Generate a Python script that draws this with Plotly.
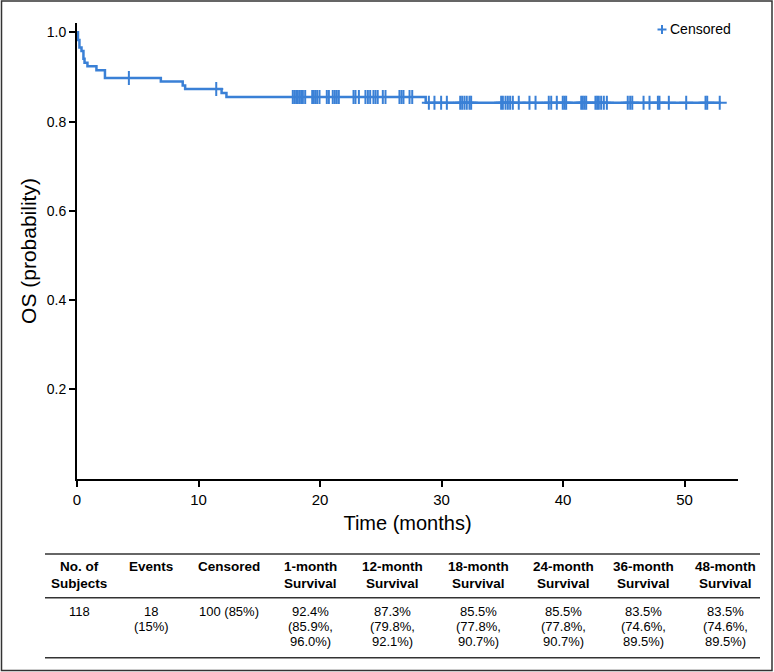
import bisect
import plotly.graph_objs as go

# Kaplan-Meier step curve (months, survival probability)
step_times = [0, 0.08, 0.2, 0.37, 0.53, 0.62, 0.86, 1.6, 2.3, 6.9, 8.7, 8.9, 11.9, 12.3, 28.7, 53.0]
step_surv = [1.0, 0.983, 0.966, 0.958, 0.941, 0.932, 0.924, 0.915, 0.898, 0.890, 0.881, 0.873, 0.864, 0.855, 0.842, 0.842]

# censored observations (months)
censor_times = [
    4.27, 11.46,
    17.76, 17.9, 18.04, 18.17, 18.31, 18.45, 18.59, 18.78,
    19.36, 19.49, 19.63, 19.77, 19.96, 20.56, 20.73,
    21.05, 21.22, 21.38, 21.55, 22.76, 22.92, 23.2,
    23.74, 23.94, 24.13, 24.4, 24.57, 24.75, 25.17, 25.39,
    26.54, 26.71, 26.87, 27.37, 27.59,
    28.96, 29.42, 29.97, 30.44, 31.54, 31.7, 31.89, 32.08, 32.3, 32.44,
    34.91, 35.05, 35.27, 35.46, 35.65, 35.87, 36.36, 37.24, 37.74,
    38.83, 39.03, 39.49, 39.98, 40.12, 40.26,
    41.5, 41.63, 41.77, 41.91, 42.67, 42.81, 42.95, 43.14, 43.36, 43.61,
    45.33, 45.53, 45.7, 46.63, 47.12, 47.81, 47.94, 48.71,
    50.14, 51.73, 51.87, 52.9,
]

# summary table
table_headers = ['No. of<br>Subjects', 'Events', 'Censored', '1-month<br>Survival', '12-month<br>Survival',
                 '18-month<br>Survival', '24-month<br>Survival', '36-month<br>Survival', '48-month<br>Survival']
table_values = ['118', '18<br>(15%)', '100 (85%)', '92.4%<br>(85.9%,<br>96.0%)', '87.3%<br>(79.8%,<br>92.1%)',
                '85.5%<br>(77.8%,<br>90.7%)', '85.5%<br>(77.8%,<br>90.7%)', '83.5%<br>(74.6%,<br>89.5%)',
                '83.5%<br>(74.6%,<br>89.5%)']

BLUE = '#3a80d6'
SANS = 'Liberation Sans, Arial, sans-serif'

W, H = 774, 672
ML, MR, MT, MB = 77, 36, 23, 193
PW, PH = W - ML - MR, H - MT - MB


def fx(px):
    return (px - ML) / PW


def fy(py):
    return (H - MB - py) / PH


def surv_at(t):
    return step_surv[bisect.bisect_right(step_times, t) - 1]


curve = go.Scatter(x=step_times, y=step_surv, mode='lines', line=dict(color=BLUE, width=2.5, shape='hv'),
                   showlegend=False, hoverinfo='skip')
censored = go.Scatter(x=censor_times, y=[surv_at(t) for t in censor_times], mode='markers', name='Censored',
                      showlegend=False,
                      marker=dict(symbol='cross-thin', size=10, line=dict(color=BLUE, width=2), color=BLUE))

x_per_px = 12.15
layout = go.Layout(
    width=W, height=H,
    margin=dict(l=ML, r=MR, t=MT, b=MB),
    paper_bgcolor='white', plot_bgcolor='white',
    xaxis=dict(range=[0, PW / x_per_px], tickvals=[0, 10, 20, 30, 40, 50], showgrid=False, zeroline=False,
               automargin=False,
               showline=True, linecolor='black', linewidth=2, ticks='outside', ticklen=6, tickwidth=1.5,
               tickcolor='black', tickfont=dict(family=SANS, size=15, color='black'),
               title=dict(text='Time (months)', font=dict(family=SANS, size=20, color='black'), standoff=9)),
    yaxis=dict(range=[-0.001, 1.021], tickvals=[0.2, 0.4, 0.6, 0.8, 1.0], ticktext=['0.2', '0.4', '0.6', '0.8', '1.0'],
               automargin=False,
               showgrid=False, zeroline=False, showline=True, linecolor='black', linewidth=2, ticks='outside',
               ticklen=6, tickwidth=1.5, tickcolor='black', tickfont=dict(family=SANS, size=14, color='black'),
               title=dict(text='OS (probability)', font=dict(family=SANS, size=21, color='black'), standoff=4)),
    showlegend=False,
)

fig = go.Figure(data=[curve, censored], layout=layout)

# table rules, outer frame and legend symbol
shapes = []
for py in [554, 597.7, 657.7]:
    shapes.append(dict(type='line', xref='paper', yref='paper', x0=fx(45), x1=fx(760), y0=fy(py), y1=fy(py),
                       line=dict(color='#333', width=1.5)))
shapes.append(dict(type='rect', xref='paper', yref='paper', x0=fx(1.5), x1=fx(772), y0=fy(1), y1=fy(670.5),
                   line=dict(color='#333', width=1.5)))
shapes.append(dict(type='line', xref='paper', yref='paper', x0=fx(657.5), x1=fx(666.5), y0=fy(29.5), y1=fy(29.5),
                   line=dict(color=BLUE, width=2)))
shapes.append(dict(type='line', xref='paper', yref='paper', x0=fx(662), x1=fx(662), y0=fy(25), y1=fy(34),
                   line=dict(color=BLUE, width=2)))
fig.update_layout(shapes=shapes)

fig.add_annotation(x=fx(668), y=fy(29.5), xref='paper', yref='paper', text='Censored', showarrow=False,
                   xanchor='left', yanchor='middle', font=dict(family=SANS, size=14, color='black'))

col_x = [79, 151, 229, 310, 392, 479, 563, 643, 725]
for cx, head, val in zip(col_x, table_headers, table_values):
    for i, line in enumerate(head.split('<br>')):
        fig.add_annotation(x=fx(cx), y=fy(566.7 + i * 16.6), xref='paper', yref='paper', text='<b>' + line + '</b>',
                           showarrow=False, xanchor='center', yanchor='middle',
                           font=dict(family=SANS, size=13.5, color='black'))
    for i, line in enumerate(val.split('<br>')):
        fig.add_annotation(x=fx(cx), y=fy(611.7 + i * 15), xref='paper', yref='paper', text=line,
                           showarrow=False, xanchor='center', yanchor='middle',
                           font=dict(family=SANS, size=13, color='black'))

fig.write_html("out.html", config={'displayModeBar': False},
               post_script="document.body.style.margin='0';")
